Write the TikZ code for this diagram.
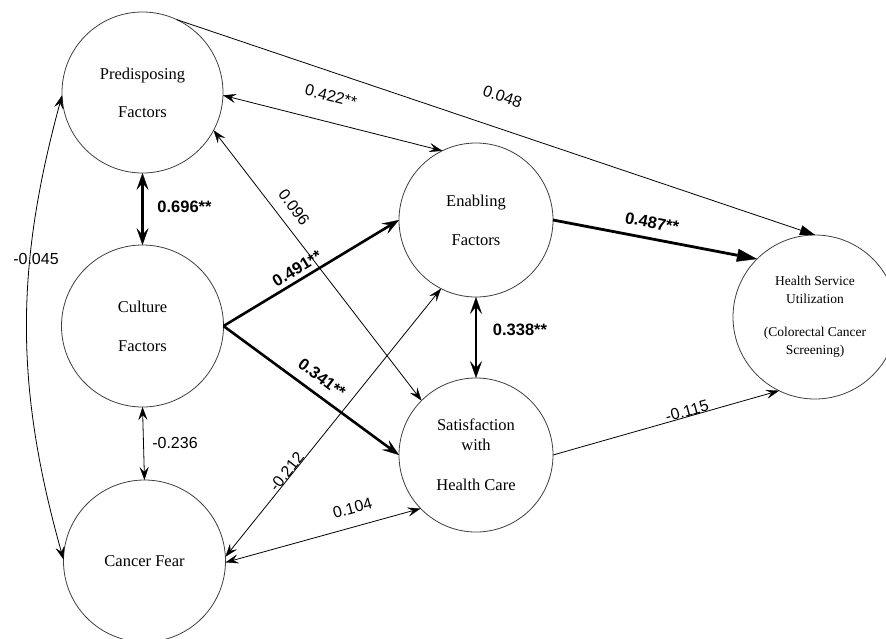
\documentclass[tikz,border=0pt]{standalone}
\usepackage{fontspec}
\setmainfont{Liberation Serif}
\newfontfamily\labelsans{Liberation Sans}
\usetikzlibrary{arrows.meta}

\begin{document}
\begin{tikzpicture}[x=1pt, y=-1pt,
  construct/.style={circle, draw=black!75, line width=0.8pt, inner sep=0pt,
    outer sep=0pt, align=center, font=\fontsize{16.5}{19.8}\selectfont},
  elabel/.style={inner sep=0pt, font=\labelsans\fontsize{16}{19}\selectfont},
  blabel/.style={inner sep=0pt, font=\labelsans\bfseries\fontsize{16.5}{19}\selectfont},
  thinboth/.style={line width=0.8pt,
    >={Stealth[length=13pt,width=9pt,inset=5pt,line width=0.3pt]}, <->},
  thinone/.style={line width=0.8pt,
    >={Stealth[length=13pt,width=9pt,inset=5pt,line width=0.3pt]}, ->},
  thickboth/.style={line width=2.6pt,
    >={Stealth[length=17pt,width=12pt,inset=7pt,line width=0.3pt]}, <->},
  thickone/.style={line width=2.6pt,
    >={Stealth[length=17pt,width=12pt,inset=7pt,line width=0.3pt]}, ->},
  solidthin/.style={line width=0.8pt,
    >={Triangle[length=15pt,width=10pt,line width=0.3pt]}, ->},
  solidthick/.style={line width=2.8pt,
    >={Triangle[length=20pt,width=13pt,line width=0.3pt]}, ->}
]
\useasboundingbox (0,0) rectangle (886,638);
\clip (0,0) rectangle (886,638);
\fill[white] (0,0) rectangle (886,638);

% constructs
\node[construct, minimum size=161pt] (pre) at (142.5,92.5) {Predisposing\\[18pt]Factors};
\node[construct, minimum size=162pt] (cul) at (142.5,326) {Culture\\[19pt]Factors};
\node[construct, minimum size=162pt] (fear) at (144.5,561) {Cancer Fear};
\node[construct, minimum size=154pt] (enab) at (476,220) {Enabling\\[19pt]Factors};
\node[construct, minimum size=154pt] (sat) at (476,455) {Satisfaction\\with\\[20pt]Health Care};
\node[construct, minimum size=164pt, font=\fontsize{13.5}{18}\selectfont] (hsu) at (815,317)
  {Health Service\\Utilization\\[15pt](Colorectal Cancer\\Screening)};

% paths between constructs
\draw[thickboth] (pre.south) -- (cul.north);
\draw[thinboth] (cul.south) -- (fear.north);
\draw[thinboth] (pre.182) .. controls (15,268) and (15,387) .. (fear.179);
\draw[thinboth] (pre.-2) -- (enab.116);
\draw[solidthin] (pre.65) -- (hsu.90);
\draw[thickone] (cul.east) -- (enab.west);
\draw[thickone] (cul.east) -- (sat.west);
\draw[thinboth] (pre.-28) -- (sat.135);
\draw[thinboth] (fear.3) -- (enab.243);
\draw[thinboth] (fear.-1) -- (sat.224);
\draw[thickboth] (enab.south) -- (sat.north);
\draw[solidthick] (enab.east) -- (hsu.135);
\draw[thinone] (sat.east) -- (hsu.244);

% coefficients
\node[blabel] (c696) at (184.5,207) {0.696**};
\node[elabel] (c236) at (175,442.5) {-0.236};
\node[elabel] (c045) at (36,259) {-0.045};
\node[blabel] (c338) at (520,329.5) {0.338**};
\node[elabel, rotate=-14] (c422) at (331,96) {0.422**};
\node[elabel, rotate=-19] (c048) at (502.5,96.5) {0.048};
\node[elabel, rotate=-53] (c096) at (294,207.5) {0.096};
\node[blabel, rotate=31] (c491) at (297,268.5) {0.491**};
\node[blabel, rotate=-37] (c341) at (322,378) {0.341**};
\node[elabel, rotate=52] (c212) at (286.5,471.5) {-0.212};
\node[elabel, rotate=15] (c104) at (352.5,508) {0.104};
\node[blabel, rotate=-10.5] (c487) at (652,222.5) {0.487**};
\node[elabel, rotate=15.6] (c115) at (687,411) {-0.115};
\end{tikzpicture}
\end{document}
